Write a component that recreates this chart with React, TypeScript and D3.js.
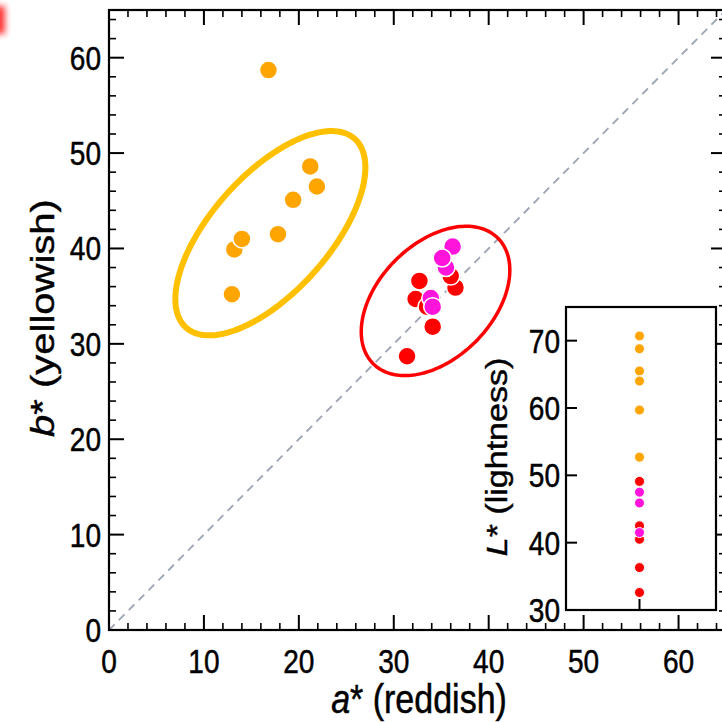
import React from "react";
import * as d3 from "d3";

// ---- data ----
const orangeA = [16.8, 21.2, 21.9, 19.4, 17.8, 13.2, 14.0, 12.95];
const orangeB = [58.7, 48.6, 46.5, 45.1, 41.5, 39.9, 41.0, 35.2];
const redA = [32.7, 32.3, 33.5, 34.1, 31.4, 36.5, 36.0];
const redB = [36.6, 34.7, 33.9, 31.8, 28.7, 35.9, 37.1];
const magentaA = [33.9, 34.1, 35.5, 36.2, 35.1];
const magentaB = [34.8, 33.9, 38.0, 40.2, 39.0];
const orangeL = [70.7, 68.8, 65.5, 64.0, 59.7, 52.7];
const redL = [49.1, 42.5, 40.5, 36.3, 32.6];
const magentaL = [47.5, 45.9, 41.5];
const mainTicks = [0, 10, 20, 30, 40, 50, 60];
const insetTicks = [30, 40, 50, 60, 70];
// ellipses: [centerA, centerB, semiMajor, semiMinor, angleDeg]
const orangeEllipse = [17.0, 41.6, 13.3, 6.17, 48];
const redEllipse = [34.4, 34.5, 9.3, 6.0, 45];

const W = 722;
const H = 722;
const M = { left: 109, top: 10, right: 726, bottom: 630 };
const I = { left: 566, top: 307, right: 716, bottom: 610 };

const FONT = "'Liberation Sans', Arial, Helvetica, sans-serif";
const ORANGE = "#ffa500";
const GOLD = "#ffc000";
const RED = "#ff0000";
const MAGENTA = "#ff14dc";
const SQ = 0.85; // horizontal text compression seen in the reference
const TS = 0.5; // text stroke for heavier glyphs

export default function App() {
  const x = d3.scaleLinear().domain([0, 65]).range([M.left, M.right]);
  const y = d3.scaleLinear().domain([0, 65]).range([M.bottom, M.top]);
  const iy = d3.scaleLinear().domain([30, 75]).range([I.bottom, I.top]);
  const ix = d3.scaleLinear().domain([0, 1]).range([I.left, I.right]);
  const ixDot = 0.49;

  const minor = d3.range(0, 66, 2).filter((v) => v % 10 !== 0);

  const ellipsePath = (e: number[]) => {
    const [cx, cy, a, b, ang] = e;
    const th = (ang * Math.PI) / 180;
    const pts = d3.range(0, 361, 2).map((deg) => {
      const t = (deg * Math.PI) / 180;
      const px = cx + a * Math.cos(t) * Math.cos(th) - b * Math.sin(t) * Math.sin(th);
      const py = cy + a * Math.cos(t) * Math.sin(th) + b * Math.sin(t) * Math.cos(th);
      return [x(px), y(py)] as [number, number];
    });
    return d3.line().curve(d3.curveLinearClosed)(pts) || "";
  };

  const tickFs = 33;
  const labelFs = 40;
  const insetLabelFs = 34;

  return (
    <svg
      width={W}
      height={H}
      style={{ position: "absolute", left: 0, top: 0, background: "#fff" }}
      fontFamily={FONT}
    >
      <defs>
        <filter id="blur" x="-2" y="-2" width="5" height="5">
          <feGaussianBlur stdDeviation="3" />
        </filter>
        <clipPath id="clipMain">
          <rect x={M.left} y={M.top} width={M.right - M.left} height={M.bottom - M.top} />
        </clipPath>
      </defs>
      <rect x={0} y={0} width={W} height={H} fill="#fff" />
      {/* red blurred artifact at top-left */}
      <rect x={-12} y={6} width={17} height={28} fill="#ff2020" filter="url(#blur)" opacity={0.9} />

      {/* diagonal */}
      <line
        x1={x(0)}
        y1={y(0)}
        x2={x(65)}
        y2={y(65)}
        stroke="#9fa6b5"
        strokeWidth={1.9}
        strokeDasharray="8,6"
        clipPath="url(#clipMain)"
      />

      {/* ellipses */}
      <path d={ellipsePath(orangeEllipse)} fill="none" stroke={GOLD} strokeWidth={6} />
      <path d={ellipsePath(redEllipse)} fill="none" stroke={RED} strokeWidth={3.5} />

      {/* points */}
      {orangeA.map((a, i) => (
        <circle key={"o" + i} cx={x(a)} cy={y(orangeB[i])} r={9} fill={ORANGE} stroke="#fff" strokeWidth={1.5} />
      ))}
      {redA.map((a, i) => (
        <circle key={"r" + i} cx={x(a)} cy={y(redB[i])} r={9} fill={RED} stroke="#fff" strokeWidth={1.5} />
      ))}
      {magentaA.map((a, i) => (
        <circle key={"m" + i} cx={x(a)} cy={y(magentaB[i])} r={9} fill={MAGENTA} stroke="#fff" strokeWidth={1.5} />
      ))}

      {/* main frame ticks */}
      {mainTicks.map((t) => (
        <g key={"mt" + t} stroke="#000" strokeWidth={2}>
          <line x1={x(t)} x2={x(t)} y1={M.bottom} y2={M.bottom - 15} />
          <line x1={x(t)} x2={x(t)} y1={M.top} y2={M.top + 15} />
          <line y1={y(t)} y2={y(t)} x1={M.left} x2={M.left + 15} />
          <line y1={y(t)} y2={y(t)} x1={M.right} x2={M.right - 15} />
        </g>
      ))}
      {minor.map((t) => (
        <g key={"mn" + t} stroke="#000" strokeWidth={1.6}>
          <line x1={x(t)} x2={x(t)} y1={M.bottom} y2={M.bottom - 7} />
          <line x1={x(t)} x2={x(t)} y1={M.top} y2={M.top + 7} />
          <line y1={y(t)} y2={y(t)} x1={M.left} x2={M.left + 7} />
          <line y1={y(t)} y2={y(t)} x1={M.right} x2={M.right - 7} />
        </g>
      ))}
      <rect
        x={M.left}
        y={M.top}
        width={M.right - M.left}
        height={M.bottom - M.top}
        fill="none"
        stroke="#000"
        strokeWidth={2.2}
      />

      <g fill="#000" stroke="#000" strokeWidth={TS}>
        {/* main tick labels */}
        {mainTicks.map((t) => (
          <text
            key={"xl" + t}
            transform={`translate(${x(t)},${M.bottom + 43}) scale(${SQ},1)`}
            textAnchor="middle"
            fontSize={tickFs}
          >
            {t}
          </text>
        ))}
        {mainTicks.map((t) => (
          <text
            key={"yl" + t}
            transform={`translate(${M.left - 8},${y(t)}) scale(${SQ},1)`}
            dy="0.36em"
            textAnchor="end"
            fontSize={tickFs}
          >
            {t}
          </text>
        ))}

        {/* axis labels */}
        <text transform={`translate(419,713) scale(${SQ},1)`} textAnchor="middle" fontSize={labelFs}>
          <tspan fontStyle="italic">a</tspan>* (reddish)
        </text>
        <text transform={`translate(54,318) scale(${SQ},1) rotate(-90)`} textAnchor="middle" fontSize={labelFs}>
          <tspan fontStyle="italic">b</tspan>* (yellowish)
        </text>
      </g>

      {/* inset */}
      <rect x={I.left} y={I.top} width={I.right - I.left} height={I.bottom - I.top} fill="#fff" stroke="#000" strokeWidth={2.2} />
      {insetTicks.map((t) => (
        <line key={"it" + t} x1={I.left} x2={I.left + 11} y1={iy(t)} y2={iy(t)} stroke="#000" strokeWidth={2} />
      ))}
      <line x1={ix(ixDot)} x2={ix(ixDot)} y1={I.bottom} y2={I.bottom - 11} stroke="#000" strokeWidth={2} />
      <g fill="#000" stroke="#000" strokeWidth={TS}>
        {insetTicks.map((t) => (
          <text
            key={"il" + t}
            transform={`translate(${I.left - 6},${iy(t)}) scale(${SQ},1)`}
            dy="0.36em"
            textAnchor="end"
            fontSize={tickFs}
          >
            {t}
          </text>
        ))}
        <text
          transform={`translate(507,457) scale(${SQ},1) rotate(-90)`}
          textAnchor="middle"
          fontSize={insetLabelFs}
        >
          <tspan fontStyle="italic">L</tspan>* (lightness)
        </text>
      </g>
      {orangeL.map((v, i) => (
        <circle key={"io" + i} cx={ix(ixDot)} cy={iy(v)} r={5} fill={ORANGE} stroke="#fff" strokeWidth={1} />
      ))}
      {redL.map((v, i) => (
        <circle key={"ir" + i} cx={ix(ixDot)} cy={iy(v)} r={5} fill={RED} stroke="#fff" strokeWidth={1} />
      ))}
      {magentaL.map((v, i) => (
        <circle key={"im" + i} cx={ix(ixDot)} cy={iy(v)} r={5} fill={MAGENTA} stroke="#fff" strokeWidth={1} />
      ))}
    </svg>
  );
}
